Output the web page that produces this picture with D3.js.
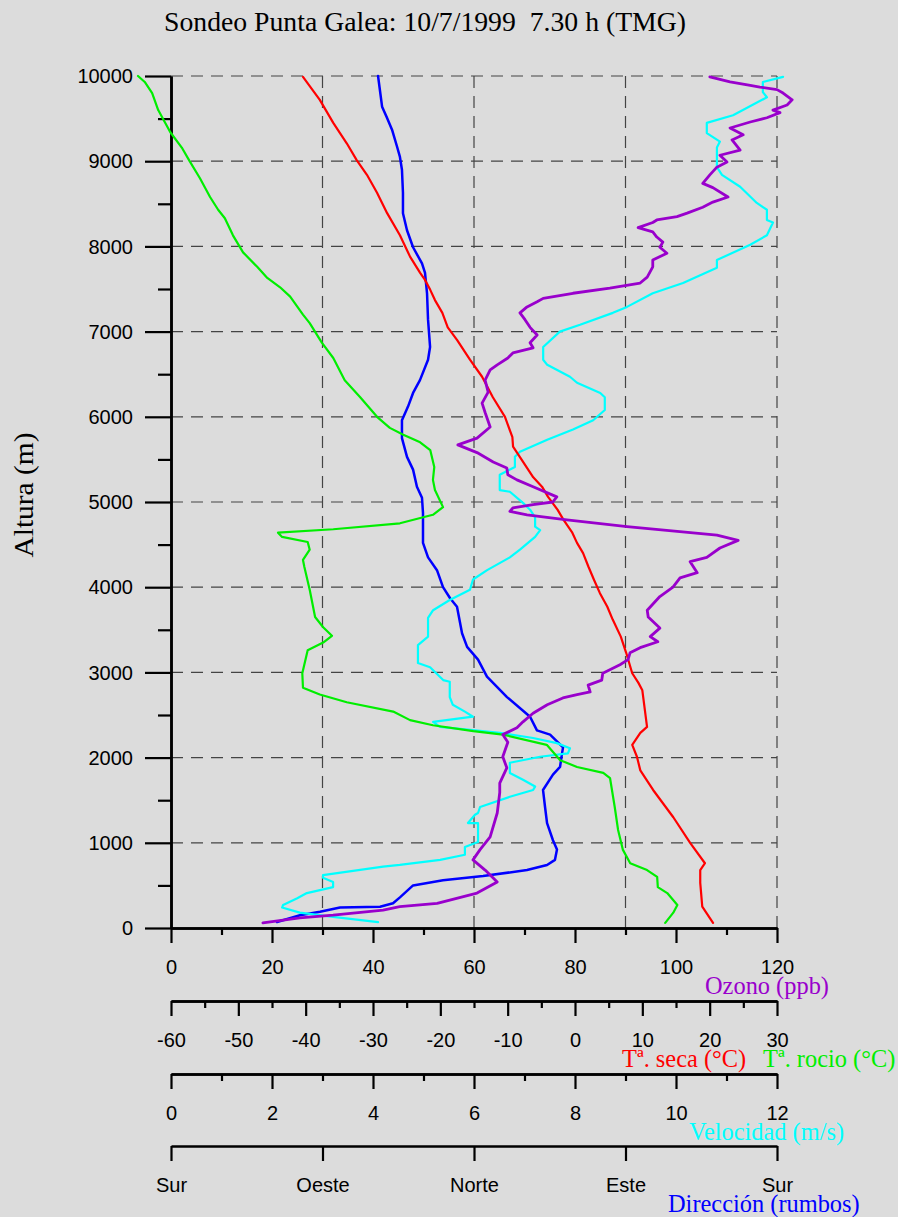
<!DOCTYPE html>
<html>
<head>
<meta charset="utf-8">
<script src="https://cdn.jsdelivr.net/npm/d3@7"></script>
<style>
  body { margin: 0; background: #dcdcdc; }
  svg { display: block; }
  .sans { font-family: "Liberation Sans", Arial, sans-serif; }
  .serif { font-family: "Liberation Serif", "Times New Roman", serif; }
</style>
</head>
<body>
<svg id="chart" width="898" height="1217"></svg>
<script>
// ---- Tick values and labels ----
const alturaTicks = d3.range(0, 10001, 1000);
const alturaMinor = d3.range(500, 10000, 1000);
const ozonoTicks = [0, 20, 40, 60, 80, 100, 120];
const ozonoMinor = [10, 30, 50, 70, 90, 110];
const tempTicks = [-60, -50, -40, -30, -20, -10, 0, 10, 20, 30];
const tempMinor = [-55, -45, -35, -25, -15, -5, 5, 15, 25];
const velTicks = [0, 2, 4, 6, 8, 10, 12];
const velMinor = [1, 3, 5, 7, 9, 11];
const rumboTicks = [180, 270, 360, 450, 540];
const rumboLabels = ["Sur", "Oeste", "Norte", "Este", "Sur"];

// ---- Sounding profiles: [altura (m), valor] ----
const ozono = [
  [60,18.2],[120,25.5],[150,32.1],[210,42.0],[250,45.3],[290,52.7],[410,60.6],[540,64.6],
  [680,62.2],[800,59.8],[920,61.2],[1070,63.2],[1350,64.6],[1590,65.1],[1700,65.1],[1880,66.5],
  [2010,65.7],[2180,66.7],[2270,65.7],[2350,68.5],[2420,69.7],[2520,71.7],[2620,74.5],[2700,77.6],
  [2740,80.4],[2770,83.0],[2850,82.6],[2910,85.3],[2990,85.5],[3090,88.9],[3150,90.5],[3230,90.9],
  [3290,92.9],[3360,96.4],[3420,94.9],[3520,96.8],[3650,94.5],[3730,94.3],[3890,96.8],[4000,99.4],
  [4110,100.8],[4170,104.2],[4300,102.8],[4350,106.1],[4460,108.7],[4550,112.3],[4610,108.1],
  [4710,90.3],[4790,78.4],[4850,70.5],[4890,67.1],[4930,67.7],[4970,71.7],[5000,75.6],[5060,76.4],
  [5180,71.7],[5260,68.5],[5320,66.7],[5400,66.5],[5470,63.8],[5580,60.6],[5670,56.8],[5750,60.6],
  [5880,63.2],[6050,62.2],[6160,61.6],[6290,62.8],[6430,62.2],[6550,63.2],[6610,64.6],[6690,66.7],
  [6750,67.7],[6810,71.7],[6870,71.1],[6960,72.5],[7050,71.1],[7140,70.1],[7220,69.1],[7290,70.5],
  [7350,72.5],[7390,73.7],[7450,79.6],[7510,86.9],[7570,92.9],[7640,94.3],[7760,95.4],[7840,95.4],
  [7920,98.2],[7990,96.8],[8050,97.4],[8110,96.2],[8170,95.4],[8220,92.5],[8280,95.4],[8310,96.2],
  [8350,100.2],[8390,102.2],[8460,105.3],[8520,107.3],[8580,110.3],[8690,107.3],[8740,105.3],
  [8840,106.7],[8930,108.1],[8990,110.1],[9070,108.7],[9130,112.7],[9250,111.1],[9310,113.3],
  [9390,110.7],[9460,114.7],[9510,118.0],[9570,120.6],[9600,119.2],[9660,122.0],[9720,123.0],
  [9800,121.2],[9840,120.0],[9870,116.6],[9890,114.7],[9930,110.7],[9990,106.7]
];

const tempSeca = [
  [60,20.5],[250,18.9],[530,18.6],[680,18.6],[760,19.3],[1000,17.1],[1300,14.6],[1620,11.6],
  [1850,9.7],[2010,9.2],[2150,8.5],[2290,9.7],[2360,10.7],[2790,10.0],[2880,9.4],[2990,8.5],
  [3230,7.6],[3420,6.8],[3620,5.6],[3770,4.8],[3930,3.7],[4090,2.8],[4240,2.0],[4400,1.2],
  [4520,0.3],[4640,-0.4],[4790,-1.7],[4910,-2.6],[5060,-4.0],[5180,-4.9],[5290,-6.2],[5530,-8.2],
  [5650,-9.2],[5760,-9.3],[6000,-10.4],[6230,-12.2],[6470,-13.8],[6670,-15.6],[6900,-17.5],
  [7050,-18.9],[7220,-19.7],[7370,-20.8],[7490,-21.5],[7610,-22.3],[7690,-23.0],[7880,-24.5],
  [8130,-26.0],[8390,-27.9],[8630,-29.4],[8840,-30.9],[9010,-32.4],[9210,-33.9],[9450,-35.9],
  [9720,-37.9],[9990,-40.4]
];

const tempRocio = [
  [60,13.4],[180,14.6],[270,15.2],[410,13.7],[480,12.3],[600,12.2],[680,10.7],[760,8.2],
  [920,7.1],[1150,6.4],[1420,5.9],[1760,5.2],[1820,4.2],[1890,0.3],[1970,-2.2],[2150,-4.2],
  [2270,-10.7],[2310,-15.1],[2380,-21.1],[2440,-24.5],[2540,-27.0],[2650,-33.9],[2740,-37.9],
  [2820,-40.4],[2990,-40.5],[3260,-39.7],[3350,-37.4],[3430,-36.1],[3530,-37.4],[3650,-38.6],
  [3970,-39.4],[4240,-40.2],[4320,-40.4],[4440,-39.4],[4530,-39.7],[4590,-43.5],[4640,-44.1],
  [4680,-35.9],[4750,-26.0],[4850,-21.1],[4940,-19.6],[5140,-20.8],[5260,-21.1],[5410,-20.9],
  [5610,-21.5],[5700,-23.0],[5790,-25.5],[5870,-27.5],[6000,-29.4],[6230,-31.9],[6430,-34.2],
  [6690,-35.9],[6870,-37.6],[7100,-39.4],[7200,-40.4],[7410,-42.3],[7520,-43.8],[7630,-45.7],
  [7760,-47.2],[7930,-49.3],[8130,-50.8],[8330,-52.0],[8430,-53.0],[8580,-54.2],[8800,-55.7],
  [9010,-57.3],[9160,-58.4],[9340,-60.1],[9600,-61.9],[9800,-62.8],[9930,-63.9],[10000,-64.9]
];

const velocidad = [
  [70,4.10],[130,3.21],[180,2.55],[240,2.20],[270,2.22],[350,2.50],[410,2.69],[480,3.21],
  [540,3.21],[590,3.01],[620,3.01],[720,4.20],[740,4.53],[800,5.33],[860,5.82],[950,5.82],
  [1010,6.08],[1230,6.08],[1232,5.88],[1330,6.02],[1350,6.08],[1420,6.12],[1540,6.71],[1620,7.17],
  [1660,7.21],[1740,6.97],[1820,6.71],[1940,6.71],[2010,7.31],[2050,7.86],[2110,7.90],[2170,7.64],
  [2230,7.17],[2290,6.51],[2360,5.33],[2420,5.19],[2480,5.98],[2540,5.82],[2620,5.58],[2710,5.52],
  [2890,5.52],[2910,5.39],[3060,5.13],[3110,4.89],[3320,4.89],[3420,5.09],[3640,5.09],[3730,5.19],
  [3850,5.52],[3970,5.92],[4090,5.98],[4200,6.26],[4350,6.71],[4440,6.91],[4590,7.21],[4670,7.31],
  [4710,7.21],[4820,7.21],[4910,7.11],[4990,6.97],[5120,6.71],[5140,6.51],[5320,6.51],[5410,6.81],
  [5530,6.81],[5590,6.91],[5730,7.45],[5850,7.96],[5960,8.36],[6080,8.59],[6230,8.59],[6280,8.50],
  [6400,8.04],[6470,7.90],[6610,7.45],[6670,7.37],[6820,7.37],[7000,7.70],[7080,8.10],[7220,8.75],
  [7290,9.03],[7450,9.54],[7570,10.14],[7750,10.81],[7840,10.81],[8020,11.47],[8130,11.80],
  [8280,11.92],[8310,11.80],[8430,11.80],[8510,11.60],[8700,11.27],[8840,10.91],[8930,10.81],
  [9160,10.81],[9230,10.87],[9330,10.61],[9450,10.61],[9540,11.13],[9750,11.80],[9810,11.72],
  [9930,11.72],[9990,12.12]
];

// wind direction in compass degrees (0 = Norte, 90 = Este, 180 = Sur, 270 = Oeste)
const direccion = [
  [70,243.0],[150,256.6],[190,268.5],[240,280.4],[250,304.2],[290,311.9],[360,316.0],[500,323.8],
  [560,341.6],[610,5.4],[680,31.5],[740,43.4],[800,48.1],[920,49.3],[1030,46.9],[1230,43.4],
  [1420,42.2],[1620,41.0],[1800,46.9],[1890,51.1],[2050,52.3],[2120,52.9],[2270,45.2],[2320,37.4],
  [2480,33.3],[2710,19.6],[2950,7.7],[3150,2.4],[3300,355.9],[3460,352.9],[3770,349.9],
  [3870,345.8],[4000,341.6],[4200,338.0],[4350,332.7],[4520,329.7],[4870,329.7],[5050,329.1],
  [5180,326.1],[5380,323.8],[5530,320.2],[5750,317.2],[5960,317.2],[6120,320.8],[6280,323.8],
  [6430,327.9],[6670,332.7],[6820,333.9],[7140,332.7],[7450,332.1],[7690,330.9],[7800,329.1],
  [7990,323.8],[8190,320.2],[8390,317.8],[8630,317.8],[8900,317.2],[9050,316.0],[9170,314.3],
  [9370,311.3],[9510,308.3],[9640,305.4],[10000,303.0]
];

// ---- Layout ----
const plotLeft = 171, plotRight = 777, plotTop = 76, plotBottom = 928;
const axisRows = [928, 1001, 1074, 1146];

const svg = d3.select("#chart");
svg.append("rect").attr("width", 898).attr("height", 1217).attr("fill", "#dcdcdc");

const y = d3.scaleLinear().domain([0, 10000]).range([plotBottom, plotTop]);
const xOz = d3.scaleLinear().domain([0, 120]).range([plotLeft, plotRight]);
const xT = d3.scaleLinear().domain([-60, 30]).range([plotLeft, plotRight]);
const xV = d3.scaleLinear().domain([0, 12]).range([plotLeft, plotRight]);
const xD = d3.scaleLinear().domain([180, 540]).range([plotLeft, plotRight]);

// ---- Dashed grid ----
const grid = svg.append("g").attr("stroke", "#444").attr("stroke-width", 1.2)
  .attr("stroke-dasharray", "12,8").attr("fill", "none");
grid.selectAll("line.h").data(alturaTicks.slice(1)).join("line").attr("class", "h")
  .attr("x1", plotLeft).attr("x2", plotRight).attr("y1", d => y(d)).attr("y2", d => y(d));
grid.selectAll("line.v").data([30, 60, 90, 120]).join("line").attr("class", "v")
  .attr("x1", d => xOz(d)).attr("x2", d => xOz(d)).attr("y1", plotTop).attr("y2", plotBottom);

// ---- Vertical axis ----
const yAxisG = svg.append("g").attr("transform", `translate(${plotLeft},0)`);
yAxisG.append("g")
  .call(d3.axisLeft(y).tickValues(alturaMinor).tickSize(13).tickSizeOuter(0).tickFormat(""));
yAxisG.append("g")
  .call(d3.axisLeft(y).tickValues(alturaTicks).tickSize(26).tickSizeOuter(0).tickPadding(12)
    .tickFormat(d => String(d)));
yAxisG.selectAll("path.domain").attr("stroke", "#000").attr("stroke-width", 2.5);
yAxisG.selectAll(".tick line").attr("stroke", "#000").attr("stroke-width", 2.2);
yAxisG.selectAll(".tick text").attr("class", "sans").attr("font-size", 20)
  .attr("fill", "#000").attr("dy", "0.33em");

// ---- Horizontal axes ----
function bottomAxis(scale, row, major, minor, fmt) {
  const g = svg.append("g").attr("transform", `translate(0,${row})`);
  if (minor) g.append("g")
    .call(d3.axisBottom(scale).tickValues(minor).tickSize(7).tickSizeOuter(0).tickFormat(""));
  g.append("g")
    .call(d3.axisBottom(scale).tickValues(major).tickSize(15).tickSizeOuter(0).tickFormat(fmt));
  g.selectAll("path.domain").attr("stroke", "#000").attr("stroke-width", 2.5);
  g.selectAll(".tick line").attr("stroke", "#000").attr("stroke-width", 2.2);
  g.selectAll(".tick text").attr("class", "sans").attr("font-size", 20).attr("fill", "#000")
    .attr("y", 46).attr("dy", null);
  return g;
}
bottomAxis(xOz, axisRows[0], ozonoTicks, ozonoMinor, d => String(d));
bottomAxis(xT, axisRows[1], tempTicks, tempMinor, d => String(d));
bottomAxis(xV, axisRows[2], velTicks, velMinor, d => String(d));
bottomAxis(xD, axisRows[3], rumboTicks, null, (d, i) => rumboLabels[i]);

// ---- Titles ----
const serif = (t, x, yPos, size, color) => svg.append("text").attr("class", "serif")
  .attr("x", x).attr("y", yPos).attr("font-size", size).attr("fill", color).text(t);

serif("Sondeo Punta Galea: 10/7/1999\u00a0\u00a07.30 h (TMG)", 164, 31, 27.5, "#000")
  .attr("textLength", 522).attr("lengthAdjust", "spacingAndGlyphs");

svg.append("text").attr("class", "serif").attr("font-size", 27).attr("fill", "#000")
  .attr("transform", "translate(33,495) rotate(-90)").attr("text-anchor", "middle")
  .attr("textLength", 125).attr("lengthAdjust", "spacingAndGlyphs").text("Altura (m)");

serif("Ozono (ppb)", 705, axisRows[0] + 66, 24.4, "#9900cc");
serif("Tª. seca (°C)", 622, axisRows[1] + 66, 24.4, "#ff0000");
serif("Tª. rocio (°C)", 763, axisRows[1] + 66, 24.4, "#00ee00");
serif("Velocidad (m/s)", 689, axisRows[2] + 66, 24.4, "#00ffff");
serif("Dirección (rumbos)", 668, axisRows[3] + 66, 24.4, "#0000ff");

// ---- Profiles ----
const unwrap = d => (d < 180 ? d + 360 : d);
const profile = (data, xs, color, w) => svg.append("path").datum(data)
  .attr("fill", "none").attr("stroke", color).attr("stroke-width", w)
  .attr("stroke-linejoin", "round").attr("stroke-linecap", "round")
  .attr("d", d3.line().x(d => xs(d[1])).y(d => y(d[0])));

profile(direccion, v => xD(unwrap(v)), "#0000ff", 2.5);
profile(velocidad, xV, "#00ffff", 2.2);
profile(tempRocio, xT, "#00ee00", 2.2);
profile(tempSeca, xT, "#ff0000", 2.2);
profile(ozono, xOz, "#9900cc", 2.8);
</script>
</body>
</html>
